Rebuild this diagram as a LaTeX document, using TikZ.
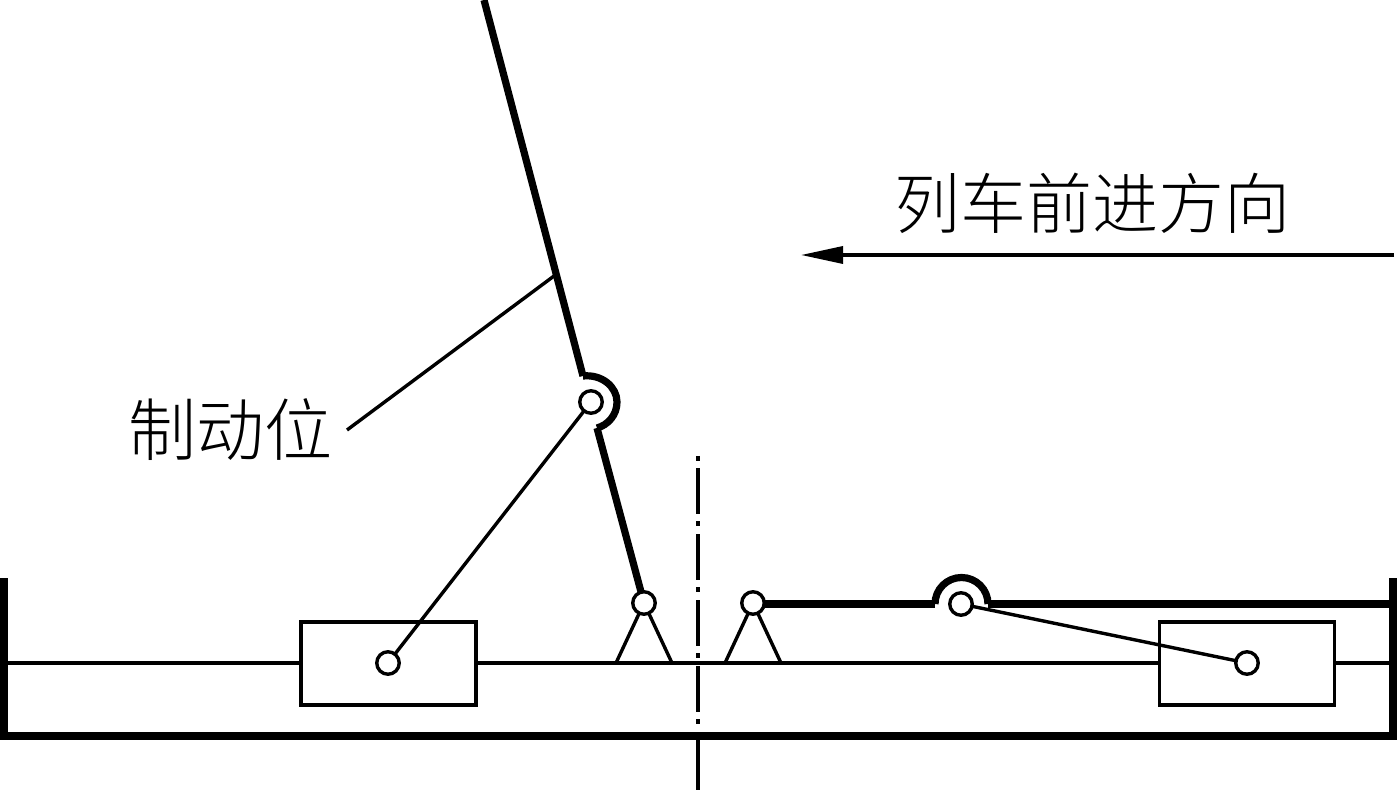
\documentclass[tikz,border=0pt]{standalone}
\usepackage{fontspec}
\newfontfamily\cjk{Noto Sans CJK SC Light}
\usetikzlibrary{arrows.meta}
\tikzset{
  thin line/.style={line width=3.4pt,draw=black},
  thick line/.style={line width=7.2pt,draw=black},
  pivot/.style={circle,draw=black,line width=3.4pt,fill=white,minimum size=22.5pt,inner sep=0pt,outer sep=0pt},
  slider/.style={rectangle,draw=black,line width=3.4pt,fill=white,minimum width=175pt,minimum height=83pt,inner sep=0pt,outer sep=0pt},
  label/.style={font=\cjk,inner sep=0pt,anchor=center},
}
\begin{document}
\begin{tikzpicture}[x=1pt,y=-1pt]
\useasboundingbox (0,0) rectangle (1398,791);
\fill[white] (0,0) rectangle (1398,791);
% frame
\coordinate (wl) at (4,578);
\coordinate (bl) at (4,736);
\coordinate (br) at (1393,736);
\coordinate (wr) at (1393,578);
\draw[thick line] (wl) -- (bl) -- (br) -- (wr);
% base rod
\coordinate (rl) at (7,663);
\coordinate (rr) at (1392,663);
\draw[thin line] (rl) -- (rr);
% centre line
\coordinate (c2) at (698,790);
\coordinate (c3) at (698,736);
\foreach \y in {468,534,600,666}{\draw[line width=3.4pt] (698,\y) -- (698,\y+46);}
\foreach \y in {456,521,587,653,719}{\draw[line width=3.4pt] (698,\y) -- (698,\y+5);}
\draw[line width=3.4pt] (c3) -- (c2);
% sliders
\node[slider] (s1) at (388.5,663.5) {};
\node[slider] (s2) at (1247,663.5) {};
% supports
\coordinate (t1a) at (616,663);
\coordinate (t1b) at (672,663);
\coordinate (t2a) at (725,663);
\coordinate (t2b) at (781,663);
\coordinate (p1) at (644,603);
\coordinate (p2) at (753,603);
\draw[thin line] (t1a) -- (p1) -- (t1b);
\draw[thin line] (t2a) -- (p2) -- (t2b);
% left lever
\coordinate (lt) at (484,0);
\coordinate (la) at (583,376);
\coordinate (lb) at (597,428);
\coordinate (h1) at (591,402);
\draw[thick line] (lt) -- (la);
\draw[thick line] (la) .. controls (602,374) and (617,387) .. (617,402) .. controls (617,415) and (608,425) .. (lb);
\draw[thick line] (lb) -- (p1);
% right lever
\coordinate (ra) at (935,604);
\coordinate (rb) at (988,604);
\coordinate (h2) at (961,604);
\draw[thick line] (p2 |- ra) -- (ra);
\draw[thick line] (ra) arc[start angle=180,end angle=0,radius=26.5pt];
\draw[thick line] (rb) -- (wr |- rb);
% pivots and links
\node[pivot] (n1) at (h1) {};
\node[pivot] (n2) at (388,663) {};
\node[pivot] (n3) at (h2) {};
\node[pivot] (n4) at (1247,663) {};
\node[pivot] (n5) at (p1) {};
\node[pivot] (n6) at (p2) {};
\draw[thin line] (n1) -- (n2);
\draw[thin line] (n3) -- (n4);
% leader
\coordinate (q1) at (554,276);
\coordinate (q2) at (347,430);
\draw[thin line] (q1) -- (q2);
% direction arrow
\coordinate (a1) at (1394,255);
\coordinate (a2) at (801,255);
\draw[thin line,-{Triangle[length=42pt,width=17pt]}] (a1) -- (a2);
% labels
\node[label,font=\cjk\fontsize{66pt}{66pt}\selectfont] (tx1) at (1092.5,203) {列车前进方向};
\node[label,font=\cjk\fontsize{68pt}{68pt}\selectfont] (tx2) at (230,430) {制动位};
\end{tikzpicture}
\end{document}
